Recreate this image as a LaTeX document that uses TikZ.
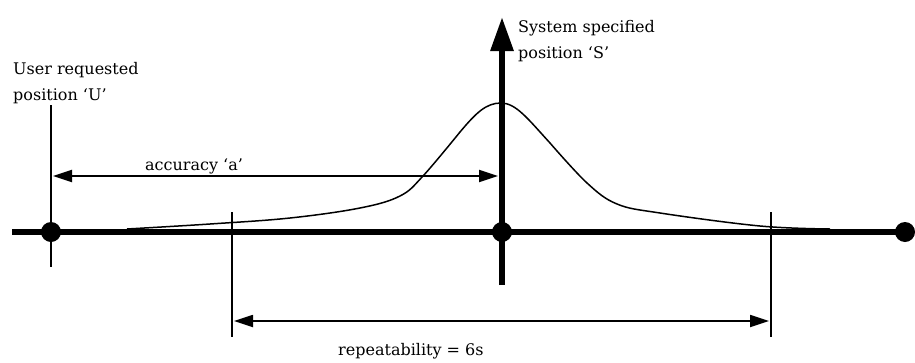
\documentclass[tikz,border=0pt]{standalone}
\usepackage{fontspec}
\setmainfont{DejaVu Serif}
\usetikzlibrary{arrows.meta}
\begin{document}
\begin{tikzpicture}[x=1pt,y=-1pt,
  lbl/.style={inner sep=0pt,anchor=base west,font=\fontsize{16}{20}\selectfont},
  axisline/.style={line width=6pt},
  thinline/.style={line width=2.2pt},
  dimarrow/.style={line width=1.8pt,{Triangle[length=19pt,width=12pt]}-{Triangle[length=19pt,width=12pt]}},
  dot/.style={circle,fill=black,inner sep=0pt,minimum size=20pt}]
\useasboundingbox (0,0) rectangle (915,362);
% axis
\coordinate (L) at (12,232);
\node[dot] (U) at (51,232) {};
\node[dot] (S) at (502,232) {};
\node[dot] (R) at (905,232) {};
\draw[axisline] (L) -- (R.center);
% vertical S axis
\coordinate (Sb) at (502,285);
\coordinate (St) at (502,17);
\draw[axisline,-{Triangle[length=34pt,width=22pt]}] (Sb) -- (St);
% U line
\coordinate (Ut) at (51,105);
\coordinate (Ub) at (51,267);
\draw[thinline] (Ut) -- (Ub);
% repeatability lines
\coordinate (RLt) at (232,212);
\coordinate (RLb) at (232,337);
\coordinate (RRt) at (771,212);
\coordinate (RRb) at (771,337);
\draw[thinline] (RLt) -- (RLb);
\draw[thinline] (RRt) -- (RRb);
% curve
\draw[line width=1.5pt,line join=round]
  plot[smooth,tension=0.6] coordinates {(127,229) (210,224) (290,218) (360,208) (400,196) (423,176) (460,132)}
  .. controls (476,113) and (486,103) .. (501,103)
  .. controls (516,103) and (528,119) .. (550,143)
  plot[smooth,tension=0.6] coordinates {(550,143) (587,183) (617,204) (660,213) (760,226) (830,229)};
% accuracy arrow
\coordinate (A1) at (53,176);
\coordinate (A2) at (498,176);
\draw[dimarrow] (A1) -- (A2);
% repeatability arrow
\coordinate (P1) at (234,321);
\coordinate (P2) at (769,321);
\draw[dimarrow] (P1) -- (P2);
% labels
\node[lbl] (u1) at (13,74) {User requested};
\node[lbl] (u2) at (13,100) {position ‘U’};
\node[lbl] (s1) at (518,32) {System specified};
\node[lbl] (s2) at (518,58) {position ‘S’};
\node[lbl] (acc) at (145,170) {accuracy ‘a’};
\node[lbl] (rep) at (338,355) {repeatability = 6s};
\end{tikzpicture}
\end{document}
